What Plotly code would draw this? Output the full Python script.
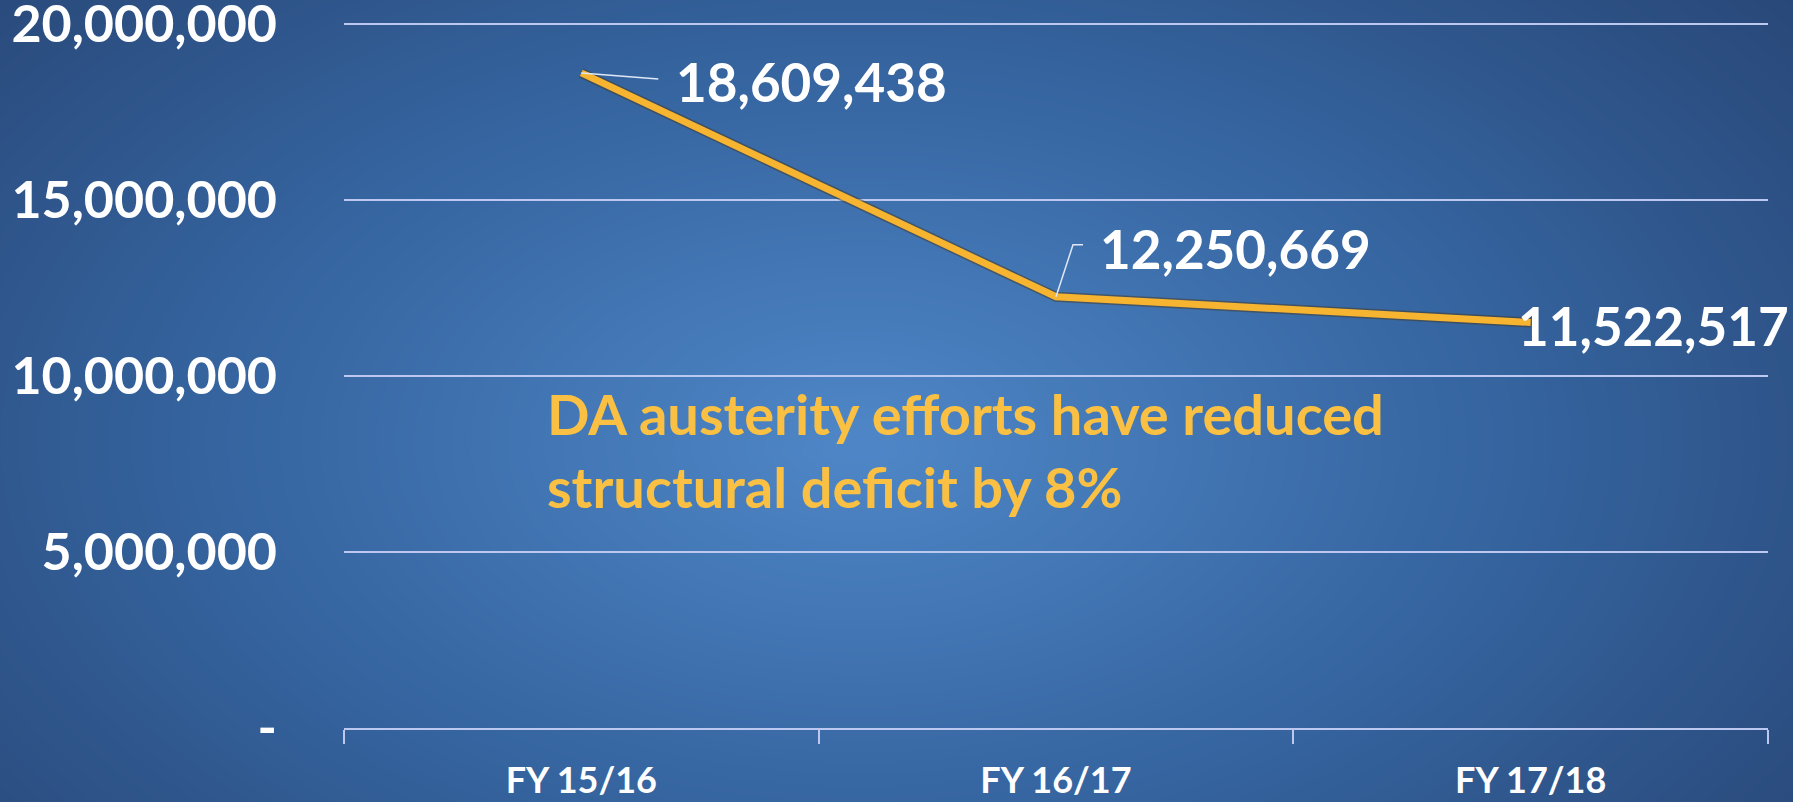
import numpy as np
import plotly.graph_objects as go

# Structural deficit by financial year
years = ["FY 15/16", "FY 16/17", "FY 17/18"]
deficit = [18609438, 12250669, 11522517]

y_ticks = [0, 5000000, 10000000, 15000000, 20000000]
y_ticktext = ["-" if v == 0 else f"{v:,}" for v in y_ticks]

message = "DA austerity efforts have reduced<br>structural deficit by 8%"

W, H = 1793, 802
FONT = "Lato"
WHITE = "#ffffff"
GOLD = "#f6b430"
TEXT_GOLD = "#f9c043"
GRID = "#bcc8f0"

# plot box in px; y range runs a little past the top tick so its grid line shows
PLOT_L, PLOT_R, PLOT_BOTTOM = 344, 1768, 728
Y_MAX = 20200000
PX_PER_UNIT = 704 / 20000000
plot_top = PLOT_BOTTOM - Y_MAX * PX_PER_UNIT

# Soft radial backdrop (light centre, darker edges)
gx = np.linspace(0, W, 48)
gy = np.linspace(0, H, 24)
GX, GY = np.meshgrid(gx, gy)
r = np.sqrt(((GX - 860) / 1250) ** 2 + ((GY - 360) / 740) ** 2)
shade = np.clip(1 - r, 0, 1) ** 1.1

fig = go.Figure()
fig.add_trace(go.Heatmap(
    x=gx, y=gy, z=shade, zmin=0, zmax=1, zsmooth="best",
    colorscale=[[0, "#284676"], [0.45, "#35649f"], [1, "#4f87c8"]],
    showscale=False, hoverinfo="skip", xaxis="x", yaxis="y",
))

# dark edge under the main line
fig.add_trace(go.Scatter(
    x=years, y=deficit, mode="lines", xaxis="x2", yaxis="y2",
    line=dict(color="rgba(70,55,30,0.5)", width=10),
    hoverinfo="skip", showlegend=False,
))
fig.add_trace(go.Scatter(
    x=years, y=deficit, mode="lines", xaxis="x2", yaxis="y2",
    line=dict(color=GOLD, width=7),
    showlegend=False,
))

# value labels: (xshift, yshift) in px relative to the point
label_offsets = [(93, -9), (42, 48), (-15, -3)]
annotations = []
for i, (yr, val) in enumerate(zip(years, deficit)):
    dx, dy = label_offsets[i]
    annotations.append(dict(
        x=i, y=val, xref="x2", yref="y2", text=f"{val:,}",
        showarrow=False, xanchor="left", yanchor="middle",
        xshift=dx, yshift=dy,
        font=dict(family=FONT, size=53, color=WHITE, weight="bold"),
    ))

annotations.append(dict(
    x=545 / W, y=1 - 450 / H, xref="paper", yref="paper",
    text=message, showarrow=False, xanchor="left", yanchor="middle",
    align="left",
    font=dict(family=FONT, size=56, color=TEXT_GOLD, weight="bold"),
))

# leader lines from points to their labels (pixel offsets)
leader_paths = ["M0,0 L77,-6", "M0,0 L17,52 L27,52"]
shapes = []
for i, p in enumerate(leader_paths):
    shapes.append(dict(
        type="path", path=p, xref="x2", yref="y2",
        xsizemode="pixel", ysizemode="pixel",
        xanchor=i, yanchor=deficit[i],
        line=dict(color="#dfe8f7", width=1.5),
        layer="above",
    ))

fig.update_layout(
    width=W, height=H,
    margin=dict(l=0, r=0, t=0, b=0, autoexpand=False),
    paper_bgcolor="#2f5588",
    plot_bgcolor="rgba(0,0,0,0)",
    showlegend=False,
    xaxis=dict(domain=[0, 1], range=[0, W], visible=False, fixedrange=True,
               automargin=False),
    yaxis=dict(domain=[0, 1], range=[0, H], visible=False, fixedrange=True,
               automargin=False),
    xaxis2=dict(
        domain=[PLOT_L / W, PLOT_R / W], anchor="y2", automargin=False,
        type="category", categoryorder="array", categoryarray=years,
        range=[-0.5, 2.5],
        showgrid=False, showline=True, linecolor=GRID, linewidth=2,
        ticks="outside", tickson="boundaries", ticklen=14, tickwidth=2,
        tickcolor=GRID, ticklabelstandoff=20, ticklabeloverflow="allow",
        tickfont=dict(family=FONT, size=36, color=WHITE, weight="bold"),
    ),
    yaxis2=dict(
        domain=[(H - PLOT_BOTTOM) / H, (H - plot_top) / H], anchor="x2",
        automargin=False,
        range=[0, Y_MAX],
        tickvals=y_ticks, ticktext=y_ticktext,
        showgrid=True, gridcolor=GRID, gridwidth=2,
        zeroline=False, showline=False, ticks="",
        ticklabelstandoff=66, ticklabeloverflow="allow",
        tickfont=dict(family=FONT, size=52, color=WHITE, weight="bold"),
    ),
    annotations=annotations,
    shapes=shapes,
)

fig.write_html("out.html")
